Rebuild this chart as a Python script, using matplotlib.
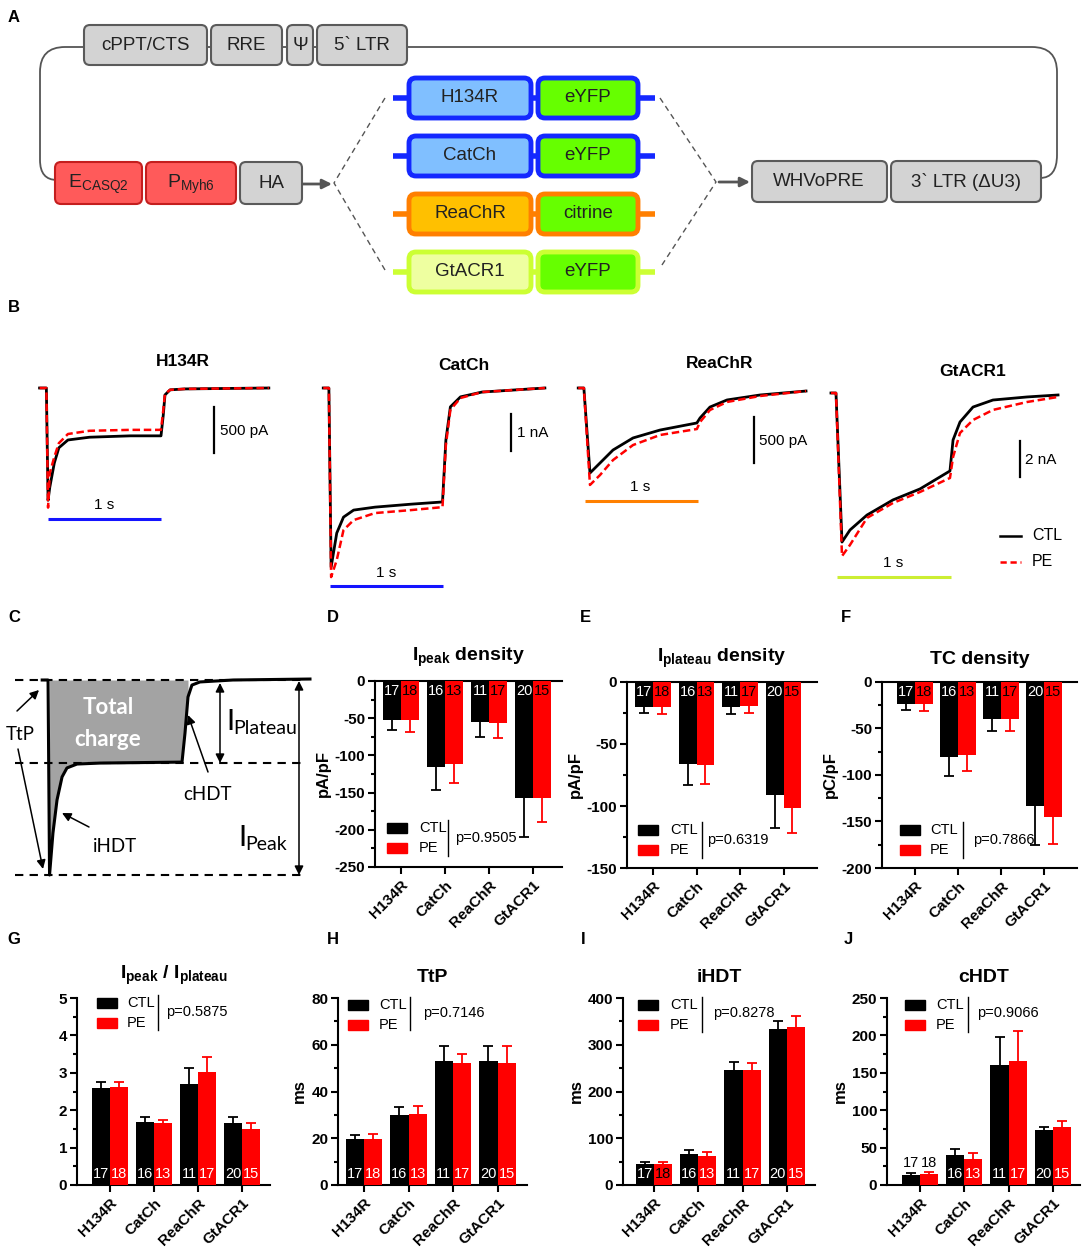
import matplotlib
matplotlib.use('Agg')
import matplotlib.pyplot as plt
import matplotlib.transforms as mtransforms
from matplotlib.patches import FancyBboxPatch, Rectangle, PathPatch
from matplotlib.path import Path
import numpy as np

W, H = 1084, 1248
plt.rcParams['font.family'] = ['Liberation Sans', 'DejaVu Sans']
plt.rcParams['mathtext.fontset'] = 'custom'
plt.rcParams['mathtext.rm'] = 'Liberation Sans'
plt.rcParams['mathtext.bf'] = 'Liberation Sans:bold'
plt.rcParams['mathtext.it'] = 'Liberation Sans:italic'
plt.rcParams['axes.unicode_minus'] = False

# ---------------- data ----------------
categories = ['H134R', 'CatCh', 'ReaChR', 'GtACR1']
n_ctl = [17, 16, 11, 20]
n_pe = [18, 13, 17, 15]

ipeak_ctl = [-53, -115, -55, -157]
ipeak_ctl_sem = [13, 32, 20, 53]
ipeak_pe = [-53, -111, -57, -157]
ipeak_pe_sem = [15, 26, 19, 33]

iplat_ctl = [-20, -66, -20, -91]
iplat_ctl_sem = [5, 17, 6, 27]
iplat_pe = [-20, -67, -19, -102]
iplat_pe_sem = [6, 15, 6, 20]

tc_ctl = [-24, -81, -40, -133]
tc_ctl_sem = [6, 20, 13, 42]
tc_pe = [-24, -79, -40, -145]
tc_pe_sem = [7, 17, 13, 29]

ratio_ctl = [2.60, 1.69, 2.70, 1.65]
ratio_ctl_sem = [0.16, 0.12, 0.43, 0.17]
ratio_pe = [2.62, 1.65, 3.03, 1.50]
ratio_pe_sem = [0.13, 0.10, 0.40, 0.15]

ttp_ctl = [19.5, 30, 53, 53]
ttp_ctl_sem = [1.7, 3.5, 6.5, 6.5]
ttp_pe = [19.5, 30.5, 52, 52]
ttp_pe_sem = [2.3, 3.5, 4, 7.5]

ihdt_ctl = [45, 66, 247, 333]
ihdt_ctl_sem = [4, 8, 16, 18]
ihdt_pe = [45, 61, 246, 337]
ihdt_pe_sem = [4, 9, 16, 24]

chdt_ctl = [14, 40, 161, 74]
chdt_ctl_sem = [2, 8, 37, 4]
chdt_pe = [15, 35, 166, 77]
chdt_pe_sem = [3, 8, 40, 9]

p_values = ['p=0.9505', 'p=0.6319', 'p=0.7866', 'p=0.5875', 'p=0.7146', 'p=0.8278', 'p=0.9066']

# example traces (time in s, current in pA or nA)
h134r_t = [-0.07, -0.01, 0.005, 0.02, 0.06, 0.10, 0.18, 0.37, 0.73, 1.0, 1.02, 1.035, 1.08, 1.21, 1.95]
h134r_ctl = [0, 0, -1220, -1080, -815, -650, -565, -535, -520, -520, -295, -75, -20, -10, 0]
h134r_pe = [0, 0, -1300, -925, -750, -600, -500, -465, -455, -455, -240, -65, -20, -10, 0]

catch_t = [-0.06, -0.01, 0.01, 0.06, 0.12, 0.21, 0.40, 0.72, 1.0, 1.03, 1.07, 1.16, 1.35, 1.91]
catch_ctl = [0, 0, -4.84, -3.92, -3.49, -3.30, -3.22, -3.14, -3.08, -1.41, -0.51, -0.24, -0.11, 0]
catch_pe = [0, 0, -5.11, -4.65, -3.84, -3.57, -3.38, -3.30, -3.22, -1.54, -0.59, -0.27, -0.11, 0]

reachr_t = [-0.06, -0.01, 0.044, 0.133, 0.248, 0.425, 0.664, 0.99, 1.018, 1.106, 1.257, 1.549, 1.956]
reachr_ctl = [0, 0, -924, -815, -674, -543, -457, -380, -326, -207, -130, -76, -33]
reachr_pe = [0, 0, -1054, -946, -783, -620, -511, -446, -370, -239, -152, -87, -33]

gtacr1_t = [-0.053, -0.009, 0.044, 0.114, 0.263, 0.491, 0.728, 0.991, 1.018, 1.079, 1.193, 1.368, 1.667, 1.939]
gtacr1_ctl = [0, 0, -8.28, -7.61, -6.78, -5.94, -5.33, -4.33, -2.61, -1.61, -0.78, -0.39, -0.22, -0.11]
gtacr1_pe = [0, 0, -9.06, -8.44, -6.94, -6.11, -5.50, -4.72, -3.56, -2.22, -1.50, -0.94, -0.50, -0.22]

# schematic trace of panel C (normalised current)
c_t = [-0.05, -0.007, 0.004, 0.029, 0.059, 0.096, 0.132, 0.206, 0.375, 0.978, 1.0, 1.022, 1.051, 1.110, 1.353, 1.919]
c_i = [0, 0, -1.0, -0.785, -0.615, -0.497, -0.451, -0.431, -0.426, -0.421, -0.272, -0.087, -0.026, -0.010, 0, 0.005]

fig = plt.figure(figsize=(W / 100, H / 100), dpi=100)


def px_axes(l, t, r, b, **kw):
    return fig.add_axes([l / W, 1 - b / H, (r - l) / W, (b - t) / H], **kw)


def scaled_axes(l, t, r, b, x0, pps, y0, ppu):
    ax = px_axes(l, t, r, b)
    ax.set_xlim((l - x0) / pps, (r - x0) / pps)
    ax.set_ylim((y0 - b) / ppu, (y0 - t) / ppu)
    ax.axis('off')
    return ax


ov = fig.add_axes([0, 0, 1, 1], zorder=20)
ov.set_xlim(0, W)
ov.set_ylim(H, 0)
ov.axis('off')
ov.patch.set_alpha(0)

# panel letters
for lab, (x, y) in {'A': (14, 18), 'B': (14, 307), 'C': (14, 618), 'D': (333, 618),
                    'E': (585, 618), 'F': (846, 618), 'G': (14, 940), 'H': (333, 940),
                    'I': (583, 940), 'J': (848, 940)}.items():
    ov.text(x, y, lab, fontsize=12, fontweight='bold', ha='center', va='center')

# ---------------- panel A (construct diagram) ----------------
loop = Path([(57, 180), (40, 180), (40, 160), (40, 72), (40, 47), (65, 47), (1032, 47),
             (1057, 47), (1057, 72), (1057, 155), (1057, 178), (1040, 178)],
            [Path.MOVETO, Path.CURVE3, Path.CURVE3, Path.LINETO, Path.CURVE3, Path.CURVE3,
             Path.LINETO, Path.CURVE3, Path.CURVE3, Path.LINETO, Path.CURVE3, Path.CURVE3])
ov.add_patch(PathPatch(loop, fill=False, edgecolor='#555555', lw=1.3))


def box(x0, x1, y0, y1, fc, ec, lw=1.5, r=6):
    ov.add_patch(FancyBboxPatch((x0, y0), x1 - x0, y1 - y0,
                                boxstyle=f'round,pad=0,rounding_size={r}',
                                fc=fc, ec=ec, lw=lw, zorder=3))


grey_fc, grey_ec = '#d3d3d3', '#5a5a5a'
for x0, x1, s in [(84, 207, 'cPPT/CTS'), (211, 282, 'RRE'), (287, 313, 'Ψ'), (317, 407, '5` LTR')]:
    box(x0, x1, 25, 65, grey_fc, grey_ec)
    ov.text((x0 + x1) / 2, 46, s, ha='center', va='center', fontsize=13.5, zorder=4, color='#222222')

box(55, 142, 162, 204, '#ff5a5a', '#c41e1e')
ov.text(98, 184, r'$\mathregular{E_{CASQ2}}$', ha='center', va='center', fontsize=14, zorder=4, color='#222222')
box(146, 236, 162, 204, '#ff5a5a', '#c41e1e')
ov.text(191, 184, r'$\mathregular{P_{Myh6}}$', ha='center', va='center', fontsize=14, zorder=4, color='#222222')
box(240, 302, 162, 204, grey_fc, grey_ec)
ov.text(271, 184, 'HA', ha='center', va='center', fontsize=13.5, zorder=4, color='#222222')
ov.annotate('', xy=(332, 184), xytext=(303, 184),
            arrowprops=dict(arrowstyle='-|>', color='#555555', lw=2, mutation_scale=14, shrinkA=0, shrinkB=0))

box(752, 887, 161, 202, grey_fc, grey_ec)
ov.text(819, 182, 'WHVoPRE', ha='center', va='center', fontsize=13.5, zorder=4, color='#222222')
box(891, 1041, 161, 202, grey_fc, grey_ec)
ov.text(966, 182, '3` LTR (ΔU3)', ha='center', va='center', fontsize=13.5, zorder=4, color='#222222')
ov.annotate('', xy=(750, 182), xytext=(719, 182),
            arrowprops=dict(arrowstyle='-|>', color='#555555', lw=2, mutation_scale=14, shrinkA=0, shrinkB=0))

# dashed fan lines
ov.plot([385, 334, 385], [98, 183, 270], ls=(0, (4, 3)), color='#555555', lw=1)
ov.plot([660, 716, 660], [98, 182, 268], ls=(0, (4, 3)), color='#555555', lw=1)

rows = [(98, 'H134R', '#80bfff', '#1428ff', 'eYFP', '#66ff00', '#1428ff', '#1428ff'),
        (156, 'CatCh', '#80bfff', '#1428ff', 'eYFP', '#66ff00', '#1428ff', '#1428ff'),
        (214, 'ReaChR', '#ffc000', '#ff7f00', 'citrine', '#66ff00', '#ff7f00', '#ff7f00'),
        (272, 'GtACR1', '#eeffa0', '#ccff33', 'eYFP', '#66ff00', '#ccff33', '#ccff33')]
for yc, s1, fc1, ec1, s2, fc2, ec2, lc in rows:
    ov.plot([393, 655], [yc, yc], color=lc, lw=4, solid_capstyle='butt', zorder=2)
    box(409, 531, yc - 20, yc + 20, fc1, ec1, lw=3.5, r=7)
    box(538, 638, yc - 20, yc + 20, fc2, ec2, lw=3.5, r=7)
    ov.text(470, yc, s1, ha='center', va='center', fontsize=13.5, zorder=4, color='#222222')
    ov.text(588, yc, s2, ha='center', va='center', fontsize=13.5, zorder=4, color='#222222')

# ---------------- panel B (example traces) ----------------
trace_specs = [
    ('H134R', h134r_t, h134r_ctl, h134r_pe, (35, 380, 280, 530), 47.5, 113.5, 388, 0.092,
     '#1414ff', -1424, 1.467, (-207, 500), '500 pA', (183, 362), (104, 505), (220, 431)),
    ('CatCh', catch_t, catch_ctl, catch_pe, (315, 380, 560, 595), 330, 112.5, 388, 37,
     '#1414ff', -5.35, 1.609, (-0.70, 1.0), '1 nA', (464, 365), (386, 573), (517, 433)),
    ('ReaChR', reachr_t, reachr_ctl, reachr_pe, (572, 380, 815, 510), 585, 113, 388, 0.092,
     '#ff8000', -1228, 1.496, (-315, 500), '500 pA', (720, 363), (640, 487), (759, 441)),
    ('GtACR1', gtacr1_t, gtacr1_ctl, gtacr1_pe, (826, 385, 1070, 585), 837, 114, 393, 18,
     '#ccee33', -10.2, 1.605, (-2.67, 2.0), '2 nA', (973, 371), (893, 563), (1025, 460)),
]
for (name, t, ctl, pe, bx, x0, pps, y0, ppu, scol, slev, sx, (stop, slen), stxt,
     tpos, spos, lpos) in trace_specs:
    ax = scaled_axes(*bx, x0, pps, y0, ppu)
    ax.plot(t, ctl, color='black', lw=2.0)
    ax.plot(t, pe, color='red', lw=1.8, ls=(0, (3, 1.5)))
    ax.plot([0, 1], [slev, slev], color=scol, lw=2.2, solid_capstyle='butt')
    ax.plot([sx, sx], [stop, stop - slen], color='black', lw=1.6)
    ov.text(*tpos, name, ha='center', va='center', fontsize=12.5, fontweight='bold')
    ov.text(*spos, '1 s', ha='center', va='center', fontsize=11)
    ov.text(*lpos, stxt, ha='left', va='center', fontsize=11)

ov.plot([1000, 1021], [536, 536], color='black', lw=1.8)
ov.plot([1000, 1021], [562, 562], color='red', lw=1.8, ls=(0, (2.5, 1.5)))
ov.text(1032, 536, 'CTL', ha='left', va='center', fontsize=11.5)
ov.text(1032, 562, 'PE', ha='left', va='center', fontsize=11.5)

# ---------------- panel C (schematic) ----------------
axc = scaled_axes(10, 670, 315, 885, 49, 136, 680, 195)
t_fill = [v for v in c_t if 0 <= v <= 1.04]
i_fill = [c_i[k] for k, v in enumerate(c_t) if 0 <= v <= 1.04]
axc.fill_between(t_fill, i_fill, 0, color='#a3a3a3', lw=0)
for lev in (0, c_i[8], -1.0):
    axc.plot([-0.25, 1.88], [lev, lev], color='black', lw=1.5, ls=(0, (4, 3)))
axc.plot(c_t, c_i, color='black', lw=2.2)

cfont = ['Lato', 'DejaVu Sans']
ov.text(108, 708, 'Total', color='white', fontsize=16, fontweight='bold', ha='center', va='center', family=cfont)
ov.text(108, 740, 'charge', color='white', fontsize=16, fontweight='bold', ha='center', va='center', family=cfont)
ov.text(20, 735, 'TtP', fontsize=13.5, ha='center', va='center', family=cfont)
ov.text(115, 847, 'iHDT', fontsize=13.5, ha='center', va='center', family=cfont)
ov.text(207, 794, 'cHDT', fontsize=13.5, ha='center', va='center', family=cfont)
ov.text(226, 722, 'I', fontsize=21, ha='left', va='center', family=cfont)
ov.text(233, 728, 'Plateau', fontsize=14, ha='left', va='center', family=cfont)
ov.text(238, 838, 'I', fontsize=21, ha='left', va='center', family=cfont)
ov.text(245, 845, 'Peak', fontsize=14, ha='left', va='center', family=cfont)
arr = dict(arrowstyle='-|>', color='black', lw=1.1, mutation_scale=13, shrinkA=0, shrinkB=0)
darr = dict(arrowstyle='<|-|>', color='black', lw=1.1, mutation_scale=13, shrinkA=0, shrinkB=0)
ov.annotate('', xy=(39, 690), xytext=(17, 711), arrowprops=arr)
ov.annotate('', xy=(43, 869), xytext=(18, 749), arrowprops=arr)
ov.annotate('', xy=(62, 813), xytext=(89, 827), arrowprops=arr)
ov.annotate('', xy=(188, 715), xytext=(208, 772), arrowprops=arr)
ov.annotate('', xy=(220, 683), xytext=(220, 763), arrowprops=darr)
ov.annotate('', xy=(299, 681), xytext=(299, 875), arrowprops=darr)

# ---------------- bar panels ----------------


def bar_panel(bx, x0, sp, ylim, major, minor, ctl, ctl_sem, pe, pe_sem, title, ylabel,
              pval, leg, ctl_cols, pe_cols, count_y, title_y):
    l, t, r, b = bx
    ax = px_axes(l, t, r, b)
    ax.set_xlim((l - x0) / sp, (r - x0) / sp)
    ax.set_ylim(*ylim)
    x = np.arange(len(categories))
    bw = 0.41
    neg = ylim[1] <= 0
    ax.bar(x - bw, ctl, width=bw, align='edge', color='black', zorder=3)
    ax.bar(x, pe, width=bw, align='edge', color='red', zorder=3)
    cw = 5.0 / sp
    for xs, vals, sems, col in ((x - bw / 2, ctl, ctl_sem, 'black'), (x + bw / 2, pe, pe_sem, 'red')):
        vals = np.array(vals, dtype=float)
        sems = np.array(sems, dtype=float)
        ends = vals - sems if neg else vals + sems
        ax.vlines(xs, vals, ends, color=col, lw=1.3, zorder=2)
        ax.hlines(ends, xs - cw, xs + cw, color=col, lw=1.3, zorder=2)
    ax.spines['right'].set_visible(False)
    if not neg:
        ax.spines['top'].set_visible(False)
    for s in ax.spines.values():
        s.set_linewidth(1.5)
    yt = np.arange(ylim[0], ylim[1] + major / 2, major)
    ax.set_yticks(yt, labels=[f'{v:g}' for v in yt], fontweight='bold', fontsize=11)
    ax.set_yticks(np.arange(ylim[0], ylim[1] + minor / 2, minor), minor=True)
    ax.tick_params(axis='y', which='major', length=5, width=1.5, pad=2)
    ax.tick_params(axis='y', which='minor', length=3, width=1.5)
    ax.set_xticks(x)
    ax.set_xticklabels(categories, rotation=45, ha='right', rotation_mode='anchor',
                       fontweight='bold', fontsize=11)
    ax.tick_params(axis='x', length=5, width=1.5, pad=3)
    ax.tick_params(top=False)
    ax.set_ylabel(ylabel, fontweight='bold', fontsize=12, labelpad=3)
    ax.patch.set_alpha(0)
    tr = mtransforms.blended_transform_factory(ax.transData, ax.transAxes)
    for i in range(len(categories)):
        ax.text(x[i] - bw / 2, count_y[i], str(n_ctl[i]), transform=tr, ha='center', va='center',
                color=ctl_cols[i], fontsize=10.5, zorder=5)
        ax.text(x[i] + bw / 2, count_y[i], str(n_pe[i]), transform=tr, ha='center', va='center',
                color=pe_cols[i], fontsize=10.5, zorder=5)
    ov.text((l + r) / 2, title_y, title, ha='center', va='center', fontsize=14, fontweight='bold')
    px0, py0, tx, vx, vy0, vy1, pvx, pvy = leg
    ov.add_patch(Rectangle((px0, py0 - 5), 20, 10, color='black'))
    ov.add_patch(Rectangle((px0, py0 + 15), 20, 10, color='red'))
    ov.text(tx, py0, 'CTL', ha='left', va='center', fontsize=10.5)
    ov.text(tx, py0 + 20, 'PE', ha='left', va='center', fontsize=10.5)
    ov.plot([vx, vx], [vy0, vy1], color='black', lw=1)
    ov.text(pvx, pvy, pval, ha='left', va='center', fontsize=10.5)
    return ax


W4 = ['white'] * 4
K4 = ['black'] * 4
top_y = [0.945] * 4
bot_y = [0.058] * 4

bar_panel((375, 681, 562, 867), 401, 44, (-250, 0), 50, 25, ipeak_ctl, ipeak_ctl_sem, ipeak_pe,
          ipeak_pe_sem, r'$\mathbf{I_{peak}}$ density', 'pA/pF', p_values[0],
          (387, 828, 419, 448, 820, 856, 455, 838), W4, K4, top_y, 657)
bar_panel((627, 682, 817, 868), 653, 43.5, (-150, 0), 50, 25, iplat_ctl, iplat_ctl_sem, iplat_pe,
          iplat_pe_sem, r'$\mathbf{I_{plateau}}$ density', 'pA/pF', p_values[1],
          (638, 830, 670, 702, 822, 858, 707, 840), W4, K4, top_y, 658)
bar_panel((882, 682, 1077, 868), 915, 43, (-200, 0), 50, 25, tc_ctl, tc_ctl_sem, tc_pe,
          tc_pe_sem, 'TC density', 'pC/pF', p_values[2],
          (900, 830, 930, 963, 822, 858, 973, 840), W4, K4, top_y, 660)

bar_panel((77, 998, 270, 1185), 110, 44, (0, 5), 1, 0.5, ratio_ctl, ratio_ctl_sem, ratio_pe,
          ratio_pe_sem, r'$\mathbf{I_{peak}}$ / $\mathbf{I_{plateau}}$', '', p_values[3],
          (97, 1003, 127, 158, 995, 1030, 166, 1012), W4, W4, bot_y, 975)
bar_panel((338, 998, 527, 1185), 364, 44.5, (0, 80), 20, 10, ttp_ctl, ttp_ctl_sem, ttp_pe,
          ttp_pe_sem, 'TtP', 'ms', p_values[4],
          (348, 1005, 379, 410, 997, 1030, 423, 1013), W4, W4, bot_y, 977)
bar_panel((623, 998, 815, 1185), 654, 44.3, (0, 400), 100, 50, ihdt_ctl, ihdt_ctl_sem, ihdt_pe,
          ihdt_pe_sem, 'iHDT', 'ms', p_values[5],
          (638, 1005, 670, 702, 997, 1032, 713, 1013), W4, ['black', 'white', 'white', 'white'],
          bot_y, 977)
bar_panel((887, 998, 1080, 1185), 920, 44.3, (0, 250), 50, 25, chdt_ctl, chdt_ctl_sem, chdt_pe,
          chdt_pe_sem, 'cHDT', 'ms', p_values[6],
          (905, 1005, 936, 968, 997, 1032, 977, 1013), ['black'] + W4[1:], ['black'] + W4[1:],
          [0.12] + bot_y[1:], 977)

fig.savefig('out.png', dpi=100)
